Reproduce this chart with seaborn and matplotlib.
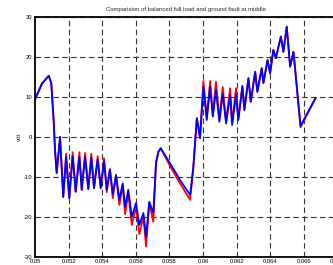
import matplotlib
matplotlib.use("Agg")
import matplotlib.pyplot as plt
import seaborn as sns
import numpy as np
import pandas as pd

# time axis (s)
t = [0.05000, 0.05042, 0.05082, 0.05097, 0.05111, 0.05119, 0.05129, 0.05149,
     0.05168, 0.05185, 0.05204, 0.05224, 0.05242, 0.05264, 0.05278, 0.05298,
     0.05317, 0.05335, 0.05351, 0.05373, 0.05391, 0.05411, 0.05427, 0.05446,
     0.05463, 0.05482, 0.05502, 0.05522, 0.05536, 0.05555, 0.05576, 0.05601,
     0.05621, 0.05645, 0.05661, 0.05680, 0.05704, 0.05720, 0.05734, 0.05748,
     0.05804, 0.05863, 0.05923, 0.05942, 0.05963, 0.05982, 0.06002, 0.06022,
     0.06042, 0.06058, 0.06077, 0.06097, 0.06117, 0.06137, 0.06161, 0.06173,
     0.06196, 0.06210, 0.06234, 0.06246, 0.06270, 0.06284, 0.06310, 0.06323,
     0.06349, 0.06359, 0.06384, 0.06399, 0.06418, 0.06433, 0.06463, 0.06478,
     0.06498, 0.06518, 0.06538, 0.06554, 0.06567, 0.06580, 0.06625, 0.06670]

# balanced full load (red)
v_full = [9.4, 13.4, 15.3, 13.4, 4.2, -3.2, -9.0, 0.0,
          -15.0, -4.2, -15.3, -3.8, -13.7, -3.8, -13.2, -4.0,
          -13.0, -4.2, -12.8, -4.8, -12.9, -5.3, -13.8, -8.0,
          -15.3, -9.5, -17.0, -12.0, -19.3, -14.0, -22.0, -17.5,
          -24.3, -20.0, -27.4, -16.5, -21.2, -6.5, -3.7, -2.8,
          -7.3, -11.6, -15.7, -8.0, 4.7, 0.0, 14.0, 5.0,
          14.0, 5.6, 13.8, 4.3, 12.5, 4.0, 12.2, 3.5,
          12.2, 4.6, 12.8, 6.75, 14.7, 8.8, 16.3, 11.3,
          17.2, 13.5, 19.25, 15.9, 21.75, 19.7, 25.1, 21.3,
          27.6, 17.6, 21.3, 14.25, 8.4, 2.4, 6.1, 9.8]

# ground fault at middle (blue)
v_fault = [9.4, 13.4, 15.3, 13.4, 4.2, -3.2, -9.0, 0.0,
           -15.0, -5.0, -15.3, -4.8, -13.7, -5.0, -13.2, -5.0,
           -13.0, -5.2, -12.8, -5.6, -12.7, -6.0, -13.2, -8.2,
           -14.3, -9.5, -15.7, -11.6, -17.5, -13.2, -20.0, -16.5,
           -22.0, -19.0, -25.0, -16.2, -19.0, -6.5, -3.7, -2.8,
           -6.6, -10.75, -14.5, -7.4, 4.7, -0.3, 12.6, 4.25,
           12.6, 5.1, 11.75, 3.8, 10.75, 3.4, 10.5, 3.0,
           10.5, 4.25, 12.6, 6.75, 14.7, 8.8, 16.3, 11.3,
           17.2, 13.5, 19.25, 15.9, 21.75, 19.7, 25.1, 21.3,
           27.6, 17.6, 21.3, 14.25, 8.4, 2.75, 6.3, 9.8]

xticks = [0.05, 0.052, 0.054, 0.056, 0.058, 0.06, 0.062, 0.064, 0.066, 0.068]
xticklabels = ["0.05", "0.052", "0.054", "0.056", "0.058", "0.06", "0.062", "0.064", "0.066", "0.068"]
yticks = [-30, -20, -10, 0, 10, 20, 30]
yticklabels = ["-30", "-20", "-10", "0", "10", "20", "30"]

sns.set_style("white")
plt.rcParams['font.family'] = ['Liberation Sans', 'DejaVu Sans']

fig = plt.figure(figsize=(3.33, 2.65), dpi=100)
ax = fig.add_axes([35/333, 1 - 257/265, 302.5/333, 240/265])

df = pd.DataFrame({"t": t, "full": v_full, "fault": v_fault})
sns.lineplot(data=df, x="t", y="full", color="red", linewidth=1.3,
             estimator=None, sort=False, ax=ax)
sns.lineplot(data=df, x="t", y="fault", color="blue", linewidth=1.3,
             estimator=None, sort=False, ax=ax)

ax.set_xlim(0.05, 0.068)
ax.set_ylim(-30, 30)
ax.set_xticks(xticks)
ax.set_xticklabels(xticklabels)
ax.set_yticks(yticks)
ax.set_yticklabels(yticklabels)
ax.tick_params(axis='both', direction='in', length=3, width=0.8, labelsize=4.2,
               color='black', labelcolor='black', pad=2)
ax.tick_params(axis='x', pad=1.5, top=False)
ax.tick_params(axis='y', right=False, labelright=False)

grid_style = dict(color='#333333', linestyle=(0, (5, 3)), linewidth=0.8, zorder=0.5)
ax.yaxis.grid(True, **{k: v for k, v in grid_style.items() if k != 'zorder'})
ax.xaxis.grid(False)
for xv in xticks[1:-1]:
    ax.axvline(xv, **grid_style)

for side in ['left', 'bottom', 'top']:
    ax.spines[side].set_visible(True)
    ax.spines[side].set_linewidth(1.3)
    ax.spines[side].set_color('black')
ax.spines['right'].set_visible(False)

ax.set_xlabel("")
ax.set_ylabel("vdt", fontsize=4.5, labelpad=1)
ax.set_title("Comparision of balanced full load and ground fault at middle",
             fontsize=4.3, pad=4)

fig.savefig("out.png", dpi=100)
